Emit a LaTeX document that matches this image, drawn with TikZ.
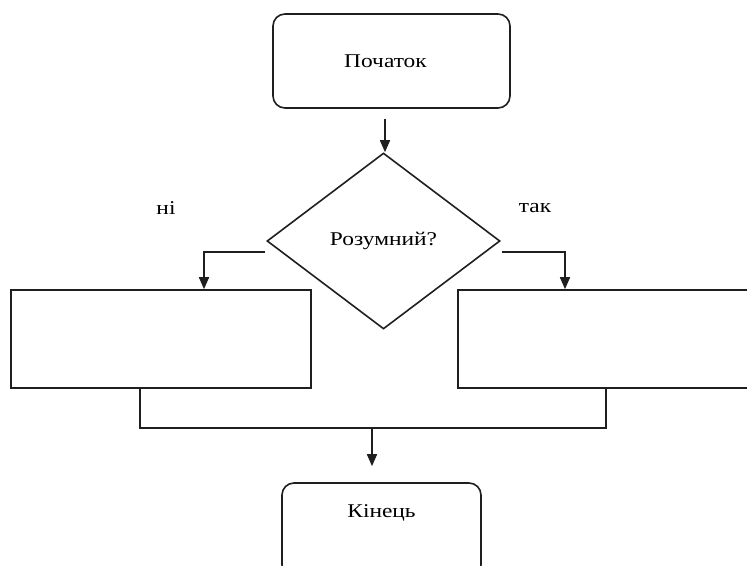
\documentclass[tikz,border=0pt]{standalone}
\usepackage{fontspec}
\setmainfont{Liberation Serif}
\usetikzlibrary{shapes.geometric,arrows.meta}
\newcommand\stretchtxt[1]{\scalebox{1.2}[1]{#1}}
\tikzset{
  ln/.style={draw=black!88, line width=1.6pt},
  tx/.style={font=\fontsize{19.5}{22}\selectfont, text=black},
  term/.style={ln, tx, rounded corners=12pt, inner sep=0pt, rectangle},
  proc/.style={ln, inner sep=0pt, rectangle},
  decis/.style={ln, tx, diamond, inner sep=0pt},
  arr/.style={ln, -{Triangle[length=12pt,width=10pt]}},
}
\begin{document}
\begin{tikzpicture}[x=1pt,y=-1pt]
\useasboundingbox (0,0) rectangle (747,565);
\clip (0,0) rectangle (747,565);
\node[term, minimum width=237pt, minimum height=94pt] (start) at (391.5,61) {\stretchtxt{Початок}\hspace*{12pt}};
\node[decis, minimum width=233pt, minimum height=176pt] (dec) at (383.5,241) {\stretchtxt{Розумний?}};
\node[proc, minimum width=300pt, minimum height=98pt] (lbox) at (161,339) {};
\node[proc, minimum width=299pt, minimum height=98pt] (rbox) at (607.5,339) {};
\node[term, minimum width=199pt, minimum height=94pt, text depth=37pt] (endbox) at (381.5,530) {\stretchtxt{Кінець}};
\node[tx] (lno) at (166,208) {\stretchtxt{ні}};
\node[tx] (lyes) at (535,208) {\stretchtxt{так}};
\coordinate (m) at (372,428);
\draw[arr] ([xshift=1.5pt,yshift=-10pt]start.south -| dec.north) -- ([xshift=1.5pt]dec.north);
\draw[arr] ([xshift=-1pt,yshift=-11pt]dec.west) -| ([xshift=43pt]lbox.north);
\draw[arr] ([xshift=1pt,yshift=-11pt]dec.east) -| ([xshift=-42.5pt]rbox.north);
\draw[ln] ([xshift=-21pt]lbox.south) |- (m) -| ([xshift=-1.5pt]rbox.south);
\draw[arr] (m) -- ([yshift=16pt]endbox.north -| m);
\end{tikzpicture}
\end{document}
